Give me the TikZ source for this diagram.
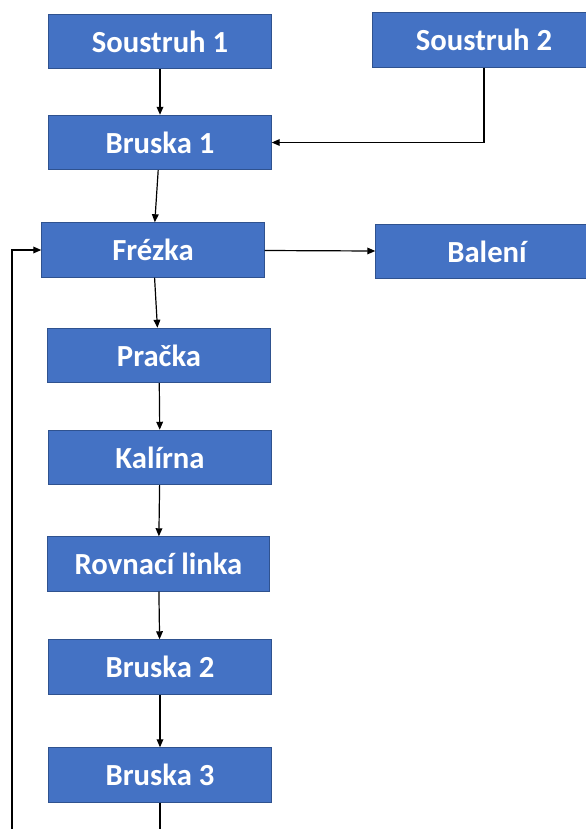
\documentclass[tikz,border=0pt]{standalone}
\usepackage{fontspec}
\setmainfont{Carlito}
\usetikzlibrary{arrows.meta}
\definecolor{boxblue}{HTML}{4472C4}
\definecolor{boxline}{HTML}{2F528F}

\begin{document}
\begin{tikzpicture}[x=0.75pt, y=-0.75pt,
    station/.style={draw=boxline, line width=0.6pt, fill=boxblue, text=white,
        font=\fontsize{23}{27}\selectfont\bfseries,
        minimum width=167pt, minimum height=41pt, inner sep=0pt},
    flow/.style={-{Triangle[length=6pt, width=5pt]}, line width=0.9pt}]
    \useasboundingbox (0,0) rectangle (586,829);
    % main line of stations
    \foreach \n/\t/\x/\y in {s1/Soustruh 1/160/41.5, b1/Bruska 1/160/142.5,
            fr/Frézka/153/250, pr/Pračka/159/355.5, ka/Kalírna/160/457.5,
            rl/Rovnací linka/158.5/564, b2/Bruska 2/160/667, b3/Bruska 3/160/775}
        \node[station] (\n) at (\x,\y) {\t};
    \node[station] (s2) at (484,40) {Soustruh 2};
    \node[station] (bal) at (487,251.5) {Balení};
    \foreach \a/\b in {s1/b1, b1/fr, fr/pr, pr/ka, ka/rl, rl/b2, b2/b3}
        \draw[flow] (\a) -- (\b);
    \draw[flow] (s2) |- (b1);
    \draw[flow] (fr) -- (bal);
    % return loop back to the mill
    \coordinate (out) at (160,829);
    \coordinate (back) at (12,829);
    \draw[line width=0.9pt] (b3) -- (out);
    \draw[flow] (back) |- (fr);
\end{tikzpicture}
\end{document}
